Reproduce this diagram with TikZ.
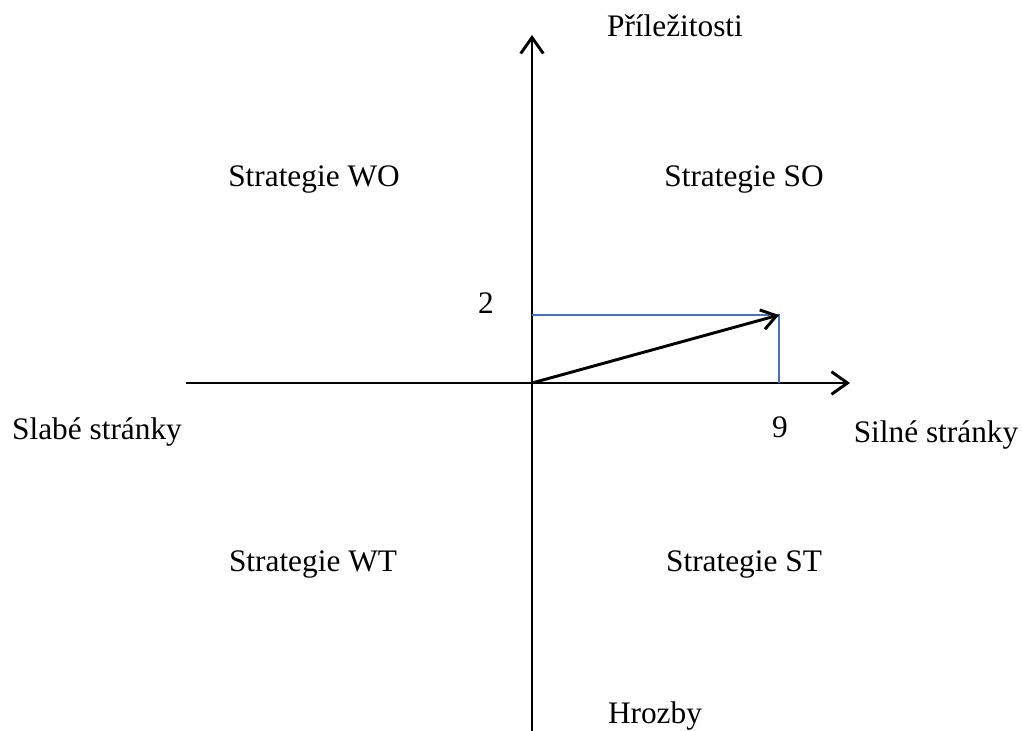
\documentclass[tikz,border=0pt]{standalone}
\usepackage{fontspec}
\setmainfont{Liberation Serif}
\usetikzlibrary{arrows.meta}
\definecolor{officeblue}{RGB}{68,114,196}
\tikzset{
  axis/.style={line width=2.2pt,-{Straight Barb[length=12pt,width=17pt,line width=2.2pt]}},
  vec/.style={line width=2.2pt,-{Straight Barb[length=11pt,width=15pt,line width=2.2pt]}},
  guide/.style={line width=1.4pt,draw=officeblue},
  lbl/.style={font=\fontsize{23.5}{28}\selectfont,inner sep=0pt,anchor=base}
}
\begin{document}
\begin{tikzpicture}[x=0.75pt,y=-0.75pt]
\useasboundingbox (0,0) rectangle (1022,731);
% coordinates
\coordinate (O) at (532,383);
\coordinate (xl) at (186,383);
\coordinate (xr) at (850,383);
\coordinate (yb) at (532,731);
\coordinate (yt) at (532,35);
\coordinate (P) at (779,315);
\coordinate (Py) at (532,315);
\coordinate (Px) at (779,383);
% axes
\draw[axis] (xl) -- (xr);
\draw[axis] (yb) -- (yt);
% guide lines
\draw[guide] (Py) -- (P) -- (Px);
% vector
\draw[vec] (O) -- (P);
% labels
\node[lbl] (opp) at (675,37) {Příležitosti};
\node[lbl] (thr) at (655,723) {Hrozby};
\node[lbl] (weak) at (97,439) {Slabé stránky};
\node[lbl] (strong) at (936,442) {Silné stránky};
\node[lbl] (wo) at (314,187) {Strategie WO};
\node[lbl] (so) at (744,187) {Strategie SO};
\node[lbl] (wt) at (313,571) {Strategie WT};
\node[lbl] (st) at (744,571) {Strategie ST};
\node[lbl] (two) at (486,314) {2};
\node[lbl] (nine) at (780,437) {9};
\end{tikzpicture}
\end{document}
